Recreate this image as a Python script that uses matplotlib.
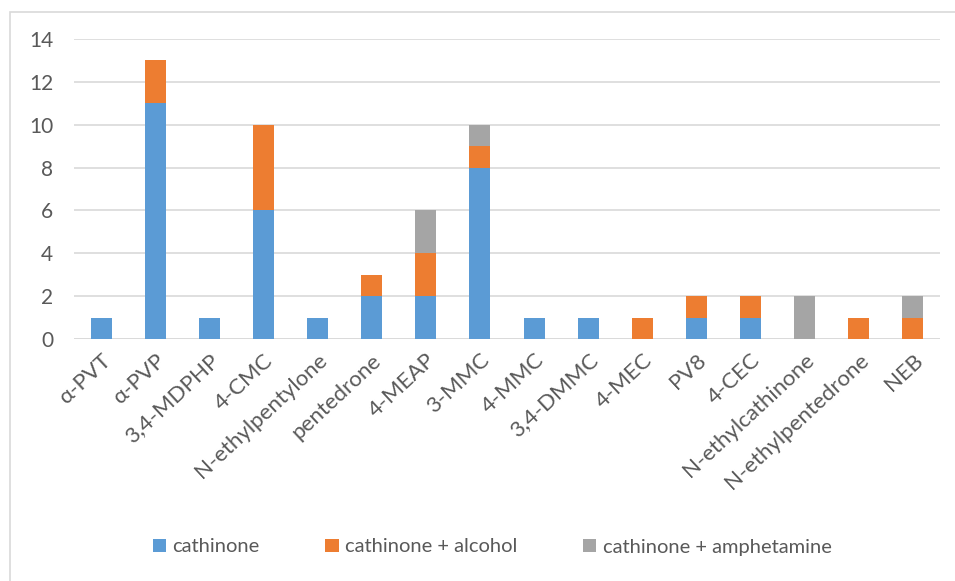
import numpy as np
import matplotlib.pyplot as plt
from matplotlib.patches import Rectangle

plt.rcParams['font.family'] = ['Lato', 'DejaVu Sans']

categories = ['α-PVT', 'α-PVP', '3,4-MDPHP', '4-CMC', 'N-ethylpentylone',
              'pentedrone', '4-MEAP', '3-MMC', '4-MMC', '3,4-DMMC', '4-MEC',
              'PV8', '4-CEC', 'N-ethylcathinone', 'N-ethylpentedrone', 'NEB']
cathinone = [1, 11, 1, 6, 1, 2, 2, 8, 1, 1, 0, 1, 1, 0, 0, 0]
with_alcohol = [0, 2, 0, 4, 0, 1, 2, 1, 0, 0, 1, 1, 1, 0, 1, 1]
with_amphetamine = [0, 0, 0, 0, 0, 0, 2, 1, 0, 0, 0, 0, 0, 2, 0, 1]

series = [
    ('cathinone', cathinone, '#5B9BD5'),
    ('cathinone + alcohol', with_alcohol, '#ED7D31'),
    ('cathinone + amphetamine', with_amphetamine, '#A5A5A5'),
]

text_col = '#595959'

fig = plt.figure(figsize=(9.55, 5.81), dpi=100)
ax = fig.add_axes([74 / 955, 1 - 339 / 581, 866 / 955, 300 / 581])

x = np.arange(len(categories))
bottom = np.zeros(len(categories))
for name, vals, col in series:
    vals = np.array(vals, dtype=float)
    ax.bar(x, vals, width=0.39, bottom=bottom, color=col, label=name, zorder=3)
    bottom += vals

ax.set_xlim(-0.5, len(categories) - 0.5)
ax.set_ylim(0, 14)
ax.set_yticks(range(0, 15, 2))
ax.yaxis.grid(True, color='#D9D9D9', linewidth=1.2, zorder=0)
for s in ax.spines.values():
    s.set_visible(False)
ax.axhline(0, color='#D9D9D9', linewidth=1.2, zorder=2)

ax.tick_params(axis='both', length=0, colors=text_col)
ax.tick_params(axis='y', pad=15, labelsize=15)
ax.set_xticks(x)
ax.set_xticklabels(categories, rotation=43, ha='right', rotation_mode='anchor')
ax.tick_params(axis='x', pad=8, labelsize=16)

fig.legend(loc='center', bbox_to_anchor=(492 / 955, 1 - 547 / 581), ncol=3, frameon=False,
           fontsize=14.5, labelcolor=text_col, handlelength=0.65, handleheight=0.65,
           handletextpad=0.3, columnspacing=3.3)

# light outer frame of the chart area
fig.patches.append(Rectangle((10 / 955, -0.01), 1.0, 1 - 12 / 581 + 0.01,
                             transform=fig.transFigure, fill=False,
                             edgecolor='#D9D9D9', linewidth=1.2))

fig.savefig('out.png', dpi=100)
